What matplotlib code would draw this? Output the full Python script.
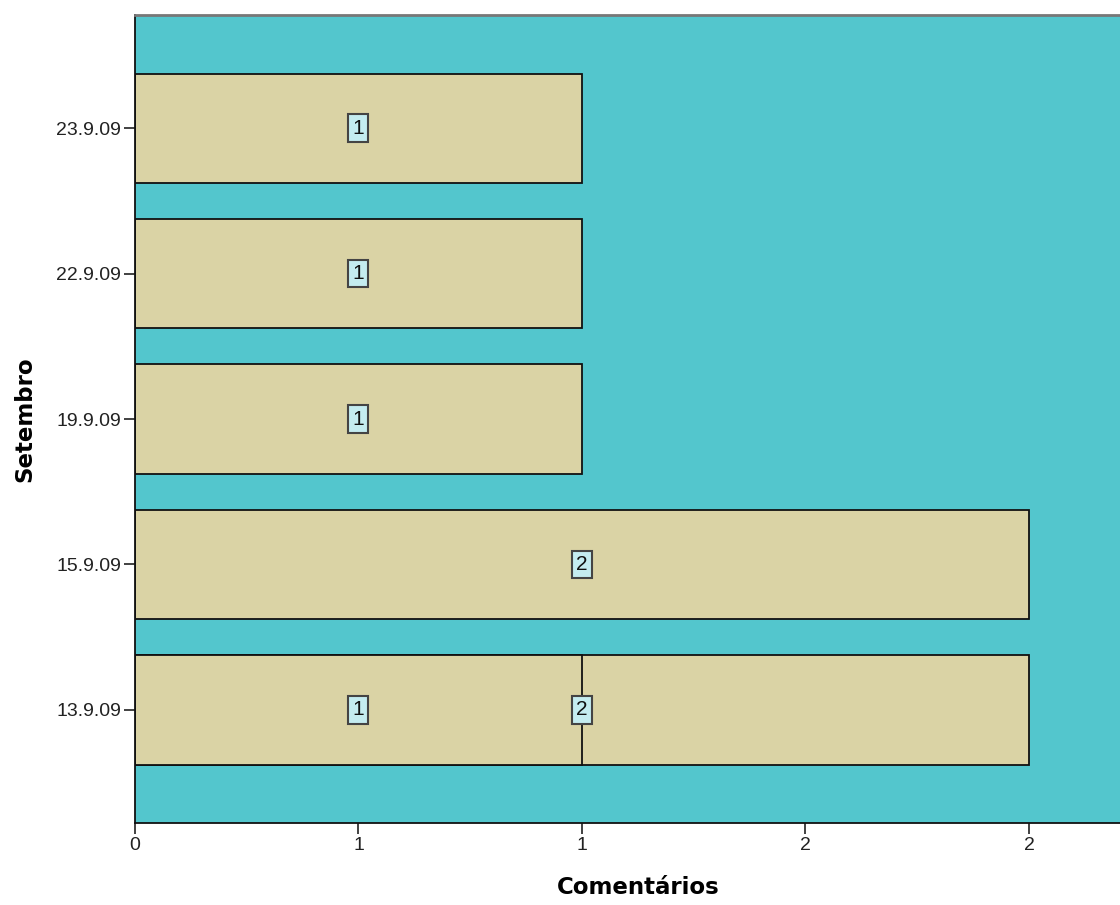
import matplotlib.pyplot as plt

# categories (bottom to top) and bars; 13.9.09 has two overlapping bars
dates = ['13.9.09', '15.9.09', '19.9.09', '22.9.09', '23.9.09']
bar_dates = ['13.9.09', '13.9.09', '15.9.09', '19.9.09', '22.9.09', '23.9.09']
bar_values = [2, 1, 2, 1, 1, 1]

xticks = [0, 0.5, 1.0, 1.5, 2.0]
xtick_labels = ['0', '1', '1', '2', '2']

bg = '#53C6CD'
bar_col = '#DAD3A5'
box_col = '#C4ECF0'

fig = plt.figure(figsize=(11.2, 9.05), dpi=100)
ax = fig.add_axes([0.1205, 0.0906, 0.898, 0.8928])
ax.set_facecolor(bg)

ypos = {d: i for i, d in enumerate(dates)}
for d, v in zip(bar_dates, bar_values):
    y = ypos[d]
    ax.barh(y, v, height=0.75, color=bar_col, edgecolor='#111111', linewidth=1.3, zorder=2)
    ax.text(v / 2, y, str(v), ha='center', va='center', fontsize=15, family='Liberation Sans',
            color='#111111', zorder=4,
            bbox=dict(boxstyle='square,pad=0.2', facecolor=box_col, edgecolor='#444444', linewidth=1.5))

ax.set_xlim(0, 2.25)
ax.set_ylim(-0.777, len(dates) - 1 + 0.777)
ax.set_yticks(range(len(dates)))
ax.set_yticklabels(dates)
ax.set_xticks(xticks)
ax.set_xticklabels(xtick_labels)
ax.tick_params(axis='both', length=8, width=1.3, color='#333333', labelsize=14,
               labelcolor='#222222', pad=2)
for lab in ax.get_xticklabels() + ax.get_yticklabels():
    lab.set_family('Liberation Sans')

ax.spines['right'].set_visible(False)
ax.spines['top'].set_color('#777777')
ax.spines['top'].set_linewidth(2)
ax.spines['left'].set_color('#111111')
ax.spines['bottom'].set_color('#111111')
ax.spines['left'].set_linewidth(1.3)
ax.spines['bottom'].set_linewidth(1.3)

ax.set_xlabel('Comentários', fontsize=16.5, fontweight='bold', labelpad=16)
ax.set_ylabel('Setembro', fontsize=16.5, fontweight='bold', labelpad=14)

fig.savefig('out.png', dpi=100)
